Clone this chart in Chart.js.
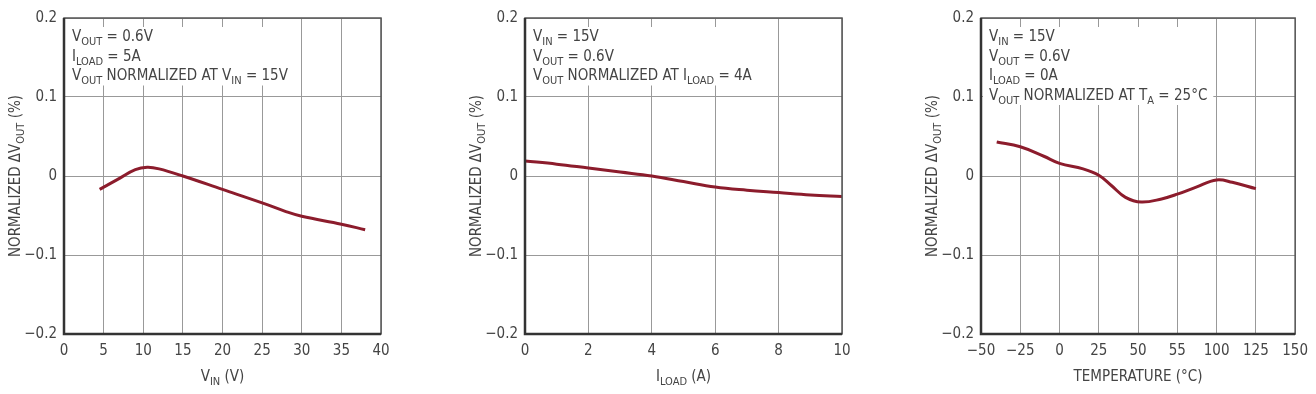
<!DOCTYPE html>
<html>
<head>
<meta charset="utf-8">
<script src="https://cdn.jsdelivr.net/npm/chart.js@4.4.0/dist/chart.umd.min.js"></script>
<style>
  body { margin: 0; background: #fff; width: 1316px; height: 394px; overflow: hidden; position: relative; }
  .box { position: absolute; top: 0; height: 394px; }
</style>
</head>
<body>
<div class="box" style="left:0;width:400px"><canvas id="c1"></canvas></div>
<div class="box" style="left:455px;width:410px"><canvas id="c2"></canvas></div>
<div class="box" style="left:910px;width:406px"><canvas id="c3"></canvas></div>
<script>
// chart 1: VIN sweep
var vinX = [4.5, 7, 9, 10.5, 12, 15, 20, 25, 28, 30, 35, 38];
var vinY = [-0.017, -0.003, 0.008, 0.011, 0.009, 0.0, -0.017, -0.034, -0.045, -0.051, -0.061, -0.068];
var vinTicks = ["0", "5", "10", "15", "20", "25", "30", "35", "40"];

// chart 2: ILOAD sweep
var iloadX = [0, 1, 2, 3, 4, 5, 6, 7, 8, 9, 10];
var iloadY = [0.019, 0.015, 0.010, 0.005, 0.0, -0.007, -0.014, -0.018, -0.021, -0.024, -0.026];
var iloadTicks = ["0", "2", "4", "6", "8", "10"];

// chart 3: temperature sweep
var tempX = [-40, -25, -10, 0, 15, 25, 33, 42, 52, 65, 75, 87, 100, 110, 125];
var tempY = [0.043, 0.037, 0.025, 0.016, 0.009, 0.001, -0.012, -0.027, -0.033, -0.029, -0.023, -0.014, -0.005, -0.008, -0.016];
var tempTicks = ["\u221250", "\u221225", "0", "25", "50", "55", "100", "125", "150"];

var yTicks = ["\u22120.2", "\u22120.1", "0", "0.1", "0.2"];

var FONT = '"Liberation Sans Narrow", "DejaVu Sans Condensed", "Roboto Condensed", "Liberation Sans", sans-serif';
var TXT = "#444";
var RED = "#8c1c2c";

// text pieces: [text, isSubscript]
var yTitle = [["NORMALIZED \u0394V", 0], ["OUT", 1], [" (%)", 0]];

function drawRich(ctx, parts, x, y, size) {
  var sub = Math.round(size * 0.72);
  parts.forEach(function (p) {
    ctx.font = (p[1] ? sub : size) + "px " + FONT;
    ctx.fillText(p[0], x, y + (p[1] ? 4 : 0));
    x += ctx.measureText(p[0]).width;
  });
  return x;
}
function richWidth(ctx, parts, size) {
  var sub = Math.round(size * 0.72), w = 0;
  parts.forEach(function (p) {
    ctx.font = (p[1] ? sub : size) + "px " + FONT;
    w += ctx.measureText(p[0]).width;
  });
  return w;
}

var decor = {
  id: "decor",
  beforeDatasetsDraw: function (chart, args, opts) {
    var ctx = chart.ctx, a = chart.chartArea;
    ctx.save();
    var w = 0;
    opts.notes.forEach(function (l) { w = Math.max(w, richWidth(ctx, l, 15)); });
    ctx.fillStyle = "#fff";
    ctx.fillRect(a.left + 2, a.top + 9, w + 12, opts.notes.length * 19.5);
    ctx.fillStyle = TXT;
    ctx.textBaseline = "alphabetic";
    opts.notes.forEach(function (l, i) {
      drawRich(ctx, l, a.left + 8, a.top + 23 + i * 19.5, 15);
    });
    ctx.restore();
  },
  afterDraw: function (chart, args, opts) {
    var ctx = chart.ctx, a = chart.chartArea;
    ctx.save();
    ctx.strokeStyle = "#555";
    ctx.lineWidth = 1.5;
    ctx.strokeRect(a.left, a.top, a.right - a.left, a.bottom - a.top);
    ctx.strokeStyle = "#333";
    ctx.lineWidth = 2.5;
    ctx.beginPath();
    ctx.moveTo(a.left, a.top);
    ctx.lineTo(a.left, a.bottom);
    ctx.lineTo(a.right, a.bottom);
    ctx.stroke();
    // axis titles
    ctx.fillStyle = TXT;
    var xw = richWidth(ctx, opts.xTitle, 15);
    drawRich(ctx, opts.xTitle, (a.left + a.right) / 2 - xw / 2, 381, 15);
    var yw = richWidth(ctx, yTitle, 15);
    ctx.translate(a.left - 44, (a.top + a.bottom) / 2);
    ctx.rotate(-Math.PI / 2);
    drawRich(ctx, yTitle, -yw / 2, 0, 15);
    ctx.restore();
  }
};

function makeChart(id, xs, ys, xmin, xmax, step, xTicks, yWidth, rightPad, notes, xTitle) {
  var pts = xs.map(function (x, i) { return { x: x, y: ys[i] }; });
  return new Chart(document.getElementById(id), {
    type: "line",
    data: {
      datasets: [{
        data: pts,
        borderColor: RED,
        borderWidth: 3,
        pointRadius: 0,
        fill: false,
        tension: 0.4
      }]
    },
    options: {
      responsive: true,
      maintainAspectRatio: false,
      animation: false,
      layout: { autoPadding: false, padding: { top: 18, right: rightPad, left: 0, bottom: 0 } },
      plugins: {
        legend: { display: false },
        tooltip: { enabled: false },
        decor: { notes: notes, xTitle: xTitle }
      },
      scales: {
        x: {
          type: "linear",
          min: xmin, max: xmax,
          ticks: {
            stepSize: step,
            color: TXT,
            font: { family: FONT, size: 15 },
            padding: 8,
            maxRotation: 0,
            callback: function (v, i) { return xTicks[i]; }
          },
          grid: { color: "#999", lineWidth: 1, drawTicks: false },
          border: { display: false },
          afterFit: function (s) { s.height = 60; }
        },
        y: {
          min: -0.2, max: 0.2,
          ticks: {
            stepSize: 0.1,
            color: TXT,
            font: { family: FONT, size: 15 },
            padding: 7,
            callback: function (v, i) { return yTicks[i]; }
          },
          grid: { color: "#999", lineWidth: 1, drawTicks: false },
          border: { display: false },
          afterFit: function (s) { s.width = yWidth; }
        }
      }
    },
    plugins: [decor]
  });
}

makeChart("c1", vinX, vinY, 0, 40, 5, vinTicks, 64, 19,
  [
    [["V", 0], ["OUT", 1], [" = 0.6V", 0]],
    [["I", 0], ["LOAD", 1], [" = 5A", 0]],
    [["V", 0], ["OUT", 1], [" NORMALIZED AT V", 0], ["IN", 1], [" = 15V", 0]]
  ],
  [["V", 0], ["IN", 1], [" (V)", 0]]);

makeChart("c2", iloadX, iloadY, 0, 10, 2, iloadTicks, 70, 23,
  [
    [["V", 0], ["IN", 1], [" = 15V", 0]],
    [["V", 0], ["OUT", 1], [" = 0.6V", 0]],
    [["V", 0], ["OUT", 1], [" NORMALIZED AT I", 0], ["LOAD", 1], [" = 4A", 0]]
  ],
  [["I", 0], ["LOAD", 1], [" (A)", 0]]);

makeChart("c3", tempX, tempY, -50, 150, 25, tempTicks, 71, 19,
  [
    [["V", 0], ["IN", 1], [" = 15V", 0]],
    [["V", 0], ["OUT", 1], [" = 0.6V", 0]],
    [["I", 0], ["LOAD", 1], [" = 0A", 0]],
    [["V", 0], ["OUT", 1], [" NORMALIZED AT T", 0], ["A", 1], [" = 25\u00b0C", 0]]
  ],
  [["TEMPERATURE (\u00b0C)", 0]]);
</script>
</body>
</html>
